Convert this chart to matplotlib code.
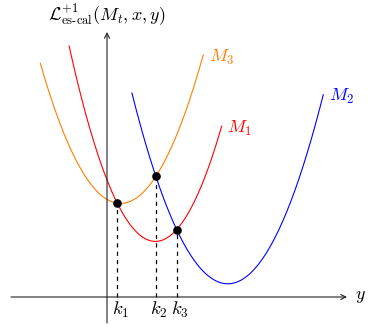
import matplotlib
matplotlib.use("Agg")
import matplotlib.pyplot as plt
import numpy as np

plt.rcParams['mathtext.fontset'] = 'cm'
plt.rcParams['lines.scale_dashes'] = False

# Model loss curves (parabolas): vertex x, vertex y, curvature, plotted x-range
models = ['M_1', 'M_2', 'M_3']
colors = ['#ff0000', '#0000ff', '#ff8000']
vertex_x = [1.21, 3.02, 0.34]
vertex_y = [1.39, 0.33, 2.34]
curv = [1.05, 0.83, 0.87]
x_start = [-0.95, 0.62, -1.67]
x_end = [2.87, 5.41, 2.41]

# thresholds k_i: intersections of model pairs
pairs = [(0, 2), (1, 2), (0, 1)]
k_labels = ['k_1', 'k_2', 'k_3']

y_label = r'$\mathcal{L}^{+1}_{\text{es-cal}}(M_t, x, y)$'
y_label_fallback = r'$\mathcal{L}^{+1}_{\mathrm{es\!\!-\!\!cal}}(M_t, x, y)$'
x_label = r'$y$'

fig = plt.figure(figsize=(3.73, 3.27), dpi=100)
ax = fig.add_axes([0, 0, 1, 1])
ax.set_xlim(-2.675, 6.65)
ax.set_ylim(-0.75, 7.425)
ax.axis('off')

def f(i, x):
    return curv[i] * (x - vertex_x[i]) ** 2 + vertex_y[i]

# axes with arrows
ax.annotate('', xy=(6.0, 0), xytext=(-2.4, 0),
            arrowprops=dict(arrowstyle='->', lw=0.8, color='#222222',
                            shrinkA=0, shrinkB=0, mutation_scale=9))
ax.annotate('', xy=(0, 6.625), xytext=(0, -0.65),
            arrowprops=dict(arrowstyle='->', lw=0.8, color='#222222',
                            shrinkA=0, shrinkB=0, mutation_scale=9))
ax.text(6.2, 0.03, x_label, ha='left', va='center', fontsize=13)
lab = ax.text(0, 7.05, y_label, ha='center', va='center', fontsize=13)

# curves
for i in range(3):
    xs = np.linspace(x_start[i], x_end[i], 300)
    ax.plot(xs, f(i, xs), color=colors[i], lw=0.8, solid_capstyle='butt')
    ax.text(x_end[i] + 0.13, f(i, x_end[i]) - 0.07, '$' + models[i] + '$',
            color=colors[i], ha='left', va='center', fontsize=13)

# intersections
for (i, j), kl in zip(pairs, k_labels):
    a = curv[i] - curv[j]
    b = -2 * curv[i] * vertex_x[i] + 2 * curv[j] * vertex_x[j]
    c = (curv[i] * vertex_x[i] ** 2 + vertex_y[i]
         - curv[j] * vertex_x[j] ** 2 - vertex_y[j])
    roots = np.roots([a, b, c])
    lo = max(x_start[i], x_start[j]); hi = min(x_end[i], x_end[j])
    roots = [r.real for r in roots if abs(r.imag) < 1e-9 and lo <= r.real <= hi]
    xk = roots[0]
    yk = f(i, xk)
    ax.plot([xk, xk], [0, yk], color='black', lw=0.9, dashes=(3, 3))
    ax.plot([xk], [yk], 'o', color='black', ms=5.2, zorder=5)
    ax.text(xk + 0.08, -0.07, '$' + kl + '$', ha='center', va='top', fontsize=13.5)

try:
    fig.savefig('out.png', dpi=100)
except Exception:
    lab.set_text(y_label_fallback)
    fig.savefig('out.png', dpi=100)
